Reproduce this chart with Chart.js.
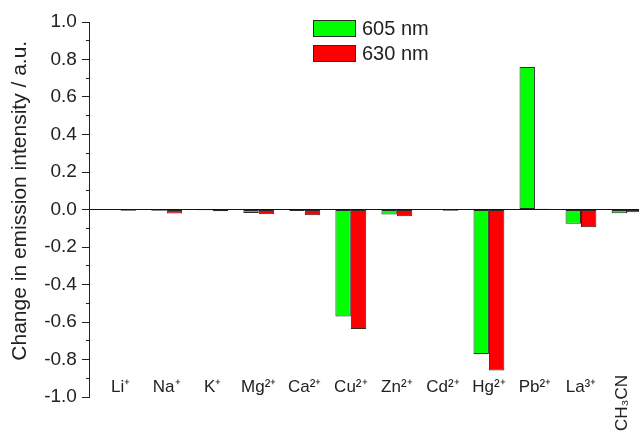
<!DOCTYPE html>
<html>
<head>
<meta charset="utf-8">
<script src="https://cdn.jsdelivr.net/npm/chart.js@4.4.1/dist/chart.umd.min.js"></script>
<style>
  html, body { margin: 0; padding: 0; background: #fff; overflow: hidden; }
  #wrap { position: relative; width: 639px; height: 434px; }
  #legend {
    position: absolute; left: 313px; top: 16px;
    font: 20px "Liberation Sans", Arial, sans-serif; color: #222;
  }
  #legend .row { display: flex; align-items: center; height: 25px; }
  #legend .sw {
    width: 43px; height: 17px; box-sizing: border-box;
    border: 1px solid #333; margin-right: 6px;
  }
</style>
</head>
<body>
<div id="wrap">
  <canvas id="c" width="639" height="434"></canvas>
  <div id="legend"></div>
</div>
<script>
// Test species (cations, then the pure solvent)
const categories = ['Li⁺', 'Na⁺', 'K⁺', 'Mg²⁺', 'Ca²⁺', 'Cu²⁺', 'Zn²⁺', 'Cd²⁺', 'Hg²⁺', 'Pb²⁺', 'La³⁺', 'CH₃CN'];

// Change in emission intensity (a.u.) at each monitored wavelength
const seriesLabels = ['605 nm', '630 nm'];
const values605 = [-0.002, -0.006, -0.004, -0.019, -0.008, -0.570, -0.027, 0.003, -0.771, 0.760, -0.076, -0.020];
const values630 = [-0.006, -0.021, -0.009, -0.025, -0.031, -0.637, -0.036, -0.007, -0.858, 0.004, -0.095, -0.014];

// Value-axis ticks
const yMajorTicks = [-1.0, -0.8, -0.6, -0.4, -0.2, 0.0, 0.2, 0.4, 0.6, 0.8, 1.0];
const yMinorTicks = [-0.9, -0.7, -0.5, -0.3, -0.1, 0.1, 0.3, 0.5, 0.7, 0.9];

const FONT = '"Liberation Sans", Arial, sans-serif';
Chart.defaults.font.family = FONT;
Chart.defaults.color = '#222';

const X_MIN = -0.667, X_MAX = 11.26;

const toPoints = vals => vals.map((v, i) => ({ x: i, y: v }));
const barStyle = { borderColor: '#2a2a2a', borderWidth: 1, borderSkipped: false,
                   categoryPercentage: 0.67, barPercentage: 1.0 };

// label rows sit on the lower end of the value axis
const labelAxis = (extra) => Object.assign({
  type: 'linear', axis: 'x', position: { y: -1 }, offset: false, min: X_MIN, max: X_MAX,
  grid: { display: false, drawTicks: false, tickLength: 0 }, border: { display: false },
  afterFit: s => { s.height = 0; }
}, extra);

const chart = new Chart(document.getElementById('c'), {
  type: 'bar',
  data: {
    datasets: [
      Object.assign({ label: seriesLabels[0], data: toPoints(values605), backgroundColor: '#00ff00' }, barStyle),
      Object.assign({ label: seriesLabels[1], data: toPoints(values630), backgroundColor: '#ff0000' }, barStyle)
    ]
  },
  options: {
    responsive: false,
    animation: false,
    events: [],
    layout: { padding: { left: 8, top: 22, right: 0, bottom: 37 } },
    plugins: { legend: { display: false }, tooltip: { enabled: false } },
    scales: {
      // position axis of the bars (not drawn)
      x: {
        type: 'linear', display: false, offset: false, min: X_MIN, max: X_MAX,
        afterBuildTicks: s => { s.ticks = categories.map((_, i) => ({ value: i })); }
      },
      // ion labels
      xIons: labelAxis({
        ticks: { autoSkip: false, minRotation: 0, maxRotation: 0, padding: -20,
                 font: { size: 17 }, color: '#222', callback: v => categories[v] },
        afterBuildTicks: s => { s.ticks = categories.slice(0, -1).map((_, i) => ({ value: i })); }
      }),
      // solvent label, set vertically
      xSolvent: labelAxis({
        ticks: { autoSkip: false, minRotation: 90, maxRotation: 90, padding: -22, labelOffset: -5,
                 font: { size: 17 }, color: '#222', callback: v => categories[v] },
        afterBuildTicks: s => { s.ticks = [{ value: categories.length - 1 }]; }
      }),
      y: {
        type: 'linear', position: 'left', weight: 1, min: -1, max: 1,
        border: { display: true, color: '#222', width: 1 },
        grid: {
          color: c => (c.tick && Math.abs(c.tick.value) < 1e-9) ? '#111' : 'rgba(0,0,0,0)',
          tickColor: '#222', tickLength: 8, lineWidth: 1
        },
        ticks: { padding: 5, font: { size: 19 }, color: '#222', callback: v => Number(v).toFixed(1) },
        afterBuildTicks: s => { s.ticks = yMajorTicks.map(v => ({ value: v })); },
        title: { display: true, text: '\u00a0\u00a0\u00a0Change in emission intensity / a.u.',
                 font: { size: 21 }, color: '#222', padding: { top: 0, bottom: 6 } }
      },
      // minor tick marks between labelled ticks
      yMinor: {
        type: 'linear', axis: 'y', position: 'left', weight: 0, min: -1, max: 1,
        border: { display: false },
        grid: { drawOnChartArea: false, color: '#222', tickColor: '#222', tickLength: 4 },
        ticks: { display: false },
        afterBuildTicks: s => { s.ticks = yMinorTicks.map(v => ({ value: v })); },
        afterFit: s => { s.width = 0; }
      }
    }
  }
});

// Legend built from the chart's own datasets
const legendEl = document.getElementById('legend');
chart.data.datasets.forEach(ds => {
  const row = document.createElement('div');
  row.className = 'row';
  const sw = document.createElement('span');
  sw.className = 'sw';
  sw.style.background = ds.backgroundColor;
  sw.style.borderColor = ds.borderColor;
  const txt = document.createElement('span');
  txt.textContent = ds.label;
  row.append(sw, txt);
  legendEl.append(row);
});
</script>
</body>
</html>
